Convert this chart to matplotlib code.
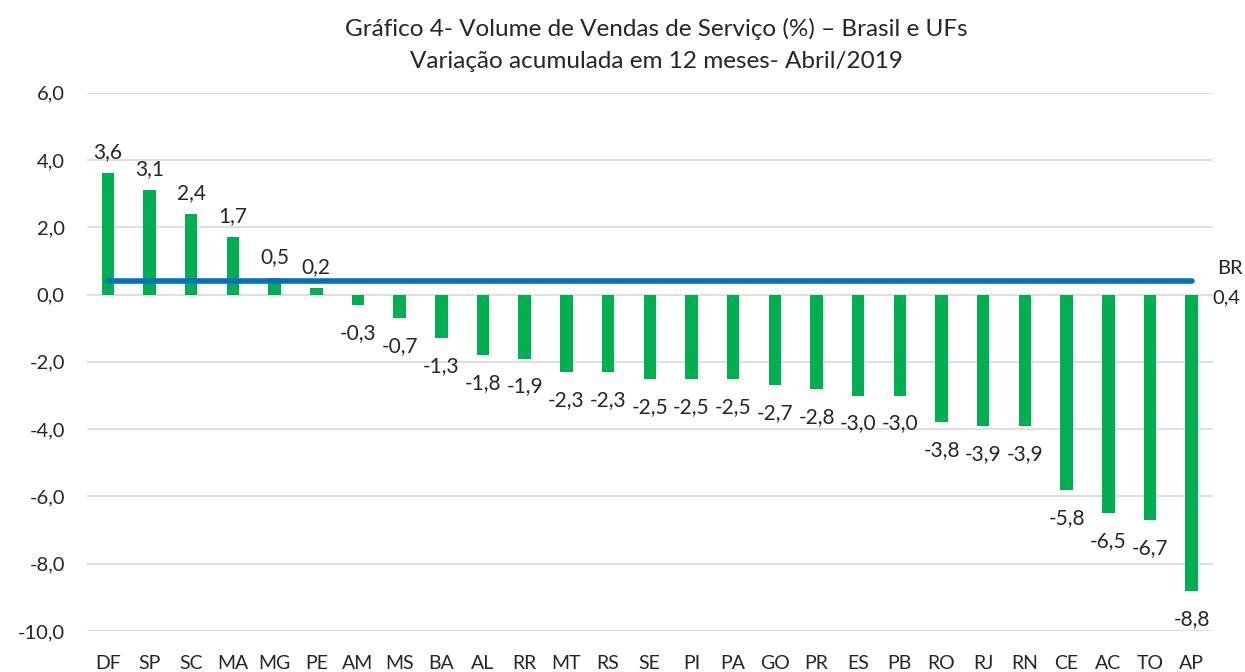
import numpy as np
import matplotlib.pyplot as plt
from matplotlib.ticker import FuncFormatter

ufs = ["DF", "SP", "SC", "MA", "MG", "PE", "AM", "MS", "BA", "AL", "RR", "MT", "RS", "SE",
       "PI", "PA", "GO", "PR", "ES", "PB", "RO", "RJ", "RN", "CE", "AC", "TO", "AP"]
valores = [3.6, 3.1, 2.4, 1.7, 0.5, 0.2, -0.3, -0.7, -1.3, -1.8, -1.9, -2.3, -2.3, -2.5,
           -2.5, -2.5, -2.7, -2.8, -3.0, -3.0, -3.8, -3.9, -3.9, -5.8, -6.5, -6.7, -8.8]
brasil = 0.4

plt.rcParams['font.family'] = ['Lato', 'DejaVu Sans']

fig = plt.figure(figsize=(12.45, 6.72), dpi=100)
ax = fig.add_axes([0.0699, 0.061, 0.904, 0.801])

x = np.arange(len(ufs))
ax.bar(x, valores, width=0.3, color="#00B050", zorder=2)
ax.plot([x[0], x[-1]], [brasil, brasil], color="#0070C0", lw=4, solid_capstyle="round", zorder=3)

def fmt(v):
    return f"{v:.1f}".replace(".", ",")

# data labels outside the bar ends
for xi, v in zip(x, valores):
    if v >= 0:
        ax.annotate(fmt(v), (xi, v), xytext=(0, 8), textcoords="offset points",
                    ha="center", va="bottom", fontsize=15, color="#262626")
    else:
        ax.annotate(fmt(v), (xi, v), xytext=(0, -13), textcoords="offset points",
                    ha="center", va="top", fontsize=15, color="#262626")

ax.annotate("BR", (x[-1], brasil), xytext=(18, 3), textcoords="offset points",
            ha="left", va="bottom", fontsize=14.5, color="#262626", annotation_clip=False)
ax.annotate(fmt(brasil), (x[-1], brasil), xytext=(15, -6), textcoords="offset points",
            ha="left", va="top", fontsize=14.5, color="#262626", annotation_clip=False)

ax.set_ylim(-10, 6)
ax.set_yticks(np.arange(-10, 7, 2))
ax.yaxis.set_major_formatter(FuncFormatter(lambda v, p: fmt(v)))
ax.set_xlim(-0.5, len(ufs) - 0.5)
ax.set_xticks(x)
ax.set_xticklabels(ufs)
ax.tick_params(axis="both", length=0, colors="#262626")
ax.tick_params(axis="x", pad=17, labelsize=14)
ax.tick_params(axis="y", pad=16, labelsize=14.5)
ax.grid(axis="y", color="#D9D9D9", lw=1.2, zorder=0)
for s in ax.spines.values():
    s.set_visible(False)

fig.text(0.527, 0.957, "Gráfico 4- Volume de Vendas de Serviço (%) – Brasil e UFs",
         ha="center", va="center", fontsize=17.5, color="#262626")
fig.text(0.527, 0.909, "Variação acumulada em 12 meses- Abril/2019",
         ha="center", va="center", fontsize=17.5, color="#262626")

fig.savefig("out.png", dpi=100)
